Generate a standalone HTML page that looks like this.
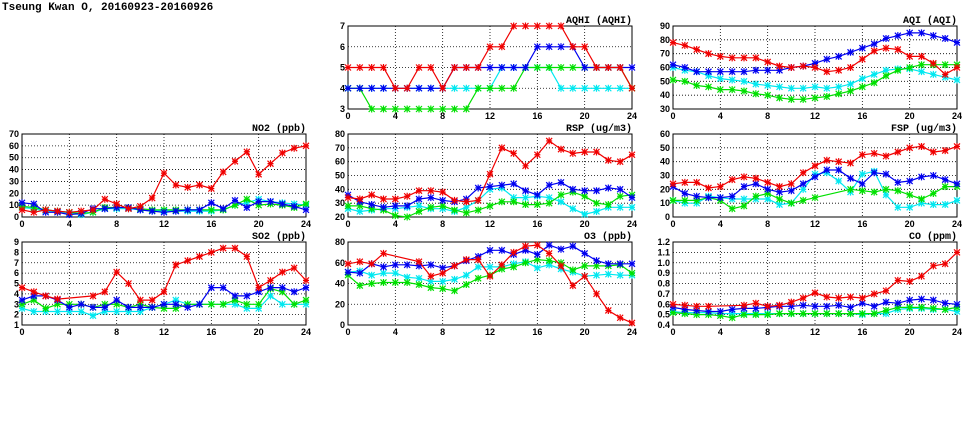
<!DOCTYPE html>
<html><head><meta charset="utf-8"><style>
html,body{margin:0;padding:0;background:#fff;}
svg{display:block;}
.tk{font-family:"Liberation Sans",sans-serif;font-weight:bold;font-size:9px;fill:#000;}
.tt{font-family:"Liberation Mono",monospace;font-weight:bold;font-size:10px;fill:#000;}
</style></head><body>
<svg id="c" width="975" height="447" viewBox="0 0 975 447">
<text x="2" y="10" class="tt" style="font-size:11px">Tseung Kwan O, 20160923-20160926</text>
</svg>
<script>
const N=null;
const hours=[0,1,2,3,4,5,6,7,8,9,10,11,12,13,14,15,16,17,18,19,20,21,22,23,24];
const xTicks=[0,4,8,12,16,20,24];
const aqhiRed=[5,5,5,5,4,4,5,5,4,5,5,5,6,6,7,7,7,7,7,6,6,5,5,5,4];
const aqhiBlue=[4,4,4,4,4,4,4,4,4,5,5,5,5,5,5,5,6,6,6,6,5,5,5,5,5];
const aqhiGreen=[4,4,3,3,3,3,3,3,3,3,3,4,4,4,4,5,5,5,5,5,5,5,5,5,4];
const aqhiCyan=[4,4,4,4,4,4,4,4,4,4,4,4,4,5,5,5,5,5,4,4,4,4,4,4,4];
const aqiRed=[78,76,73,70,68,67,67,67,64,61,60,61,60,57,58,60,66,72,74,73,68,68,63,55,60];
const aqiBlue=[62,60,57,57,57,57,57,58,58,58,60,61,63,66,68,71,74,77,81,83,85,85,83,81,78];
const aqiCyan=[60,58,57,54,52,51,50,48,47,46,45,45,46,45,46,48,52,55,58,59,59,57,55,53,51];
const aqiGreen=[51,50,47,46,44,44,43,41,40,38,37,37,38,39,41,43,46,49,54,58,60,62,62,62,62];
const no2Red=[6,4,6,5,4,5,6,15,11,7,9,16,37,27,25,27,24,38,47,55,36,45,54,58,60];
const no2Blue=[12,11,4,4,2,3,7,7,8,8,6,5,4,5,6,6,12,7,14,8,13,13,11,9,6];
const no2Green=[9,8,6,5,4,3,4,8,8,8,7,6,6,6,6,6,6,6,10,15,10,11,10,8,11];
const no2Cyan=[8,7,5,4,3,2,4,7,7,7,6,5,5,5,5,5,5,6,10,12,15,13,12,11,10];
const rspRed=[34,33,36,33,33,35,39,39,38,32,31,32,51,70,66,57,65,75,69,66,67,67,61,60,65];
const rspBlue=[36,31,29,27,28,28,33,34,32,31,33,41,42,43,44,39,36,43,45,40,39,39,41,40,34];
const rspCyan=[26,24,25,26,26,27,28,26,26,24,27,32,40,41,34,34,35,34,31,26,22,24,27,27,27];
const rspGreen=[28,28,26,25,21,20,24,27,28,25,23,25,28,31,31,29,29,30,36,38,35,30,29,35,36];
const fspRed=[24,25,25,21,22,27,29,28,25,22,24,32,37,41,40,39,45,46,44,47,50,51,47,48,51];
const fspBlue=[22,17,15,14,14,15,22,24,20,18,19,24,29,34,34,28,24,32,31,25,26,29,30,27,24];
const fspCyan=[12,10,10,15,14,13,13,13,13,9,10,20,31,32,26,18,31,33,16,7,7,10,9,9,12];
const fspGreen=[12,12,12,14,12,6,8,15,17,13,10,12,14,N,N,20,19,18,20,19,16,13,17,22,22];
const so2Red=[4.6,4.2,3.8,3.5,N,N,3.8,4.2,6.1,5.0,3.4,3.4,4.2,6.8,7.2,7.6,8.0,8.4,8.4,7.6,4.6,5.3,6.1,6.5,5.3];
const so2Blue=[3.4,3.8,3.8,3.4,2.7,3.0,2.7,2.7,3.4,2.7,2.7,2.7,3.0,3.0,2.7,3.0,4.6,4.6,3.8,3.8,4.2,4.6,4.6,4.2,4.6];
const so2Green=[3.0,3.4,2.6,3.0,3.0,3.0,2.7,3.0,3.0,2.7,3.0,2.7,2.6,2.6,3.0,3.0,3.0,3.0,3.4,3.0,3.0,4.5,4.2,3.0,3.4];
const so2Cyan=[2.6,2.3,2.3,2.3,2.3,2.3,1.9,2.3,2.3,2.3,2.3,2.7,3.0,3.4,3.0,3.0,3.0,3.0,3.0,2.6,2.6,3.8,3.0,3.0,3.0];
const o3Red=[59,61,59,69,N,N,61,47,50,57,63,63,47,58,70,76,77,69,57,38,47,30,14,7,2];
const o3Blue=[51,50,59,56,58,58,57,58,55,57,62,66,72,72,68,72,68,77,73,76,69,62,59,59,59];
const o3Cyan=[51,52,48,50,50,46,45,42,42,44,48,56,56,56,59,61,55,58,54,51,47,48,49,48,48];
const o3Green=[48,38,40,41,41,41,39,36,35,33,39,45,48,54,56,60,63,62,60,53,57,57,57,58,50];
const coRed=[.60,.59,.58,.58,N,N,.59,.61,.58,.59,.62,.66,.71,.67,.66,.67,.66,.70,.73,.83,.82,.87,.97,.99,1.10];
const coBlue=[.57,.55,.54,.53,.53,.55,.56,.56,.57,.58,.58,.59,.58,.58,.59,.57,.61,.58,.62,.61,.64,.65,.64,.61,.60];
const coGreen=[.52,.51,.50,.50,.49,.47,.50,.50,.50,.51,.51,.51,.51,.51,.51,.51,.51,.51,.54,.57,.57,.57,.56,.55,.57];
const coCyan=[.53,.52,.52,.52,.51,.51,.51,.51,.51,.51,.51,.51,.51,.51,.51,.51,.50,.51,.51,.55,.56,.56,.55,.55,.53];

const panels=[
 {n:'aqhi',t:'AQHI (AQHI)',x:348,y:26,min:3,max:7,step:1,dec:0,s:[aqhiCyan,aqhiGreen,aqhiBlue,aqhiRed]},
 {n:'aqi',t:'AQI (AQI)',x:673,y:26,min:30,max:90,step:10,dec:0,s:[aqiCyan,aqiGreen,aqiBlue,aqiRed]},
 {n:'no2',t:'NO2 (ppb)',x:22,y:134,min:0,max:70,step:10,dec:0,s:[no2Cyan,no2Green,no2Blue,no2Red]},
 {n:'rsp',t:'RSP (ug/m3)',x:348,y:134,min:20,max:80,step:10,dec:0,s:[rspCyan,rspGreen,rspBlue,rspRed]},
 {n:'fsp',t:'FSP (ug/m3)',x:673,y:134,min:0,max:60,step:10,dec:0,s:[fspCyan,fspGreen,fspBlue,fspRed]},
 {n:'so2',t:'SO2 (ppb)',x:22,y:242,min:1,max:9,step:1,dec:0,s:[so2Cyan,so2Green,so2Blue,so2Red]},
 {n:'o3',t:'O3 (ppb)',x:348,y:242,min:0,max:80,step:20,dec:0,s:[o3Cyan,o3Green,o3Blue,o3Red]},
 {n:'co',t:'CO (ppm)',x:673,y:242,min:0.4,max:1.2,step:0.1,dec:1,s:[coCyan,coGreen,coBlue,coRed]}
];
const cols=['#00e8f0','#00e000','#0000f0','#f00000'];
const cname=['cyan','green','blue','red'];
const W=284,H=83;
const svg=document.getElementById('c');
const NS='http://www.w3.org/2000/svg';
function mk(tag,at,par){const e=document.createElementNS(NS,tag);for(const k in at)e.setAttribute(k,at[k]);(par||svg).appendChild(e);return e;}
panels.forEach(p=>{
 const g=mk('g',{});
 
 
 const sx=h=>p.x+h/24*W;
 const sy=v=>p.y+H-(v-p.min)/(p.max-p.min)*H;
 const nT=Math.round((p.max-p.min)/p.step);
 for(let i=0;i<=nT;i++){
  const v=p.min+i*p.step, y=sy(v);
  if(i>0&&i<nT){const l=mk('line',{x1:p.x,x2:p.x+W,y1:y,y2:y,stroke:'#000','stroke-width':0.8,'stroke-dasharray':'1,2'},g);}
  const t=mk('text',{x:p.x-3,y:y+3,'text-anchor':'end',class:'tk'},g);t.textContent=v.toFixed(p.dec);
  
 }
 xTicks.forEach((h,i)=>{
  const x=sx(h);
  if(i>0&&i<xTicks.length-1){const l=mk('line',{x1:x,x2:x,y1:p.y,y2:p.y+H,stroke:'#000','stroke-width':0.8,'stroke-dasharray':'1,2'},g);}
  const t=mk('text',{x:x,y:p.y+H+10,'text-anchor':'middle',class:'tk'},g);t.textContent=h;
  
 });
 const fr=mk('rect',{x:p.x,y:p.y,width:W,height:H,fill:'none',stroke:'#000','stroke-width':1},g);
 
 const tt=mk('text',{x:p.x+W,y:p.y-3,'text-anchor':'end',class:'tt'},g);tt.textContent=p.t;
 
 p.s.forEach((arr,si)=>{
  const c=cols[si];
  const pts=[];hours.forEach((h,i)=>{if(arr[i]!==null)pts.push([sx(h),sy(arr[i])]);});
  const pl=mk('polyline',{points:pts.map(q=>q[0].toFixed(1)+','+q[1].toFixed(1)).join(' '),fill:'none',stroke:c,'stroke-width':1.2},g);
  
  pts.forEach(q=>{
   const m=mk('path',{d:`M${q[0]-3},${q[1]-3}L${q[0]+3},${q[1]+3}M${q[0]-3},${q[1]+3}L${q[0]+3},${q[1]-3}M${q[0]},${q[1]-3.5}L${q[0]},${q[1]+3.5}M${q[0]-3},${q[1]}L${q[0]+3},${q[1]}`,stroke:c,'stroke-width':1.2,fill:'none'},g);
   
  });
 });
});
</script>
</body></html>
